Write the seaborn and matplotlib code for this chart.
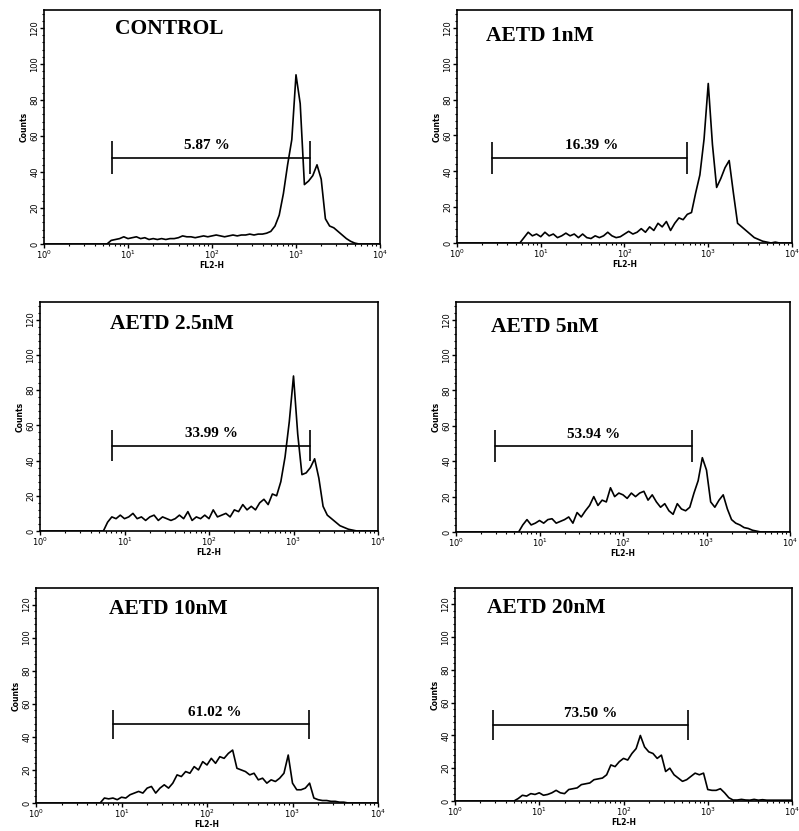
import numpy as np
import pandas as pd
import seaborn as sns
import matplotlib.pyplot as plt
from matplotlib.ticker import MultipleLocator, FixedLocator, LogLocator, NullFormatter

# FL2-H channel positions (decades 10^0 .. 10^4, step 0.05 decade)
decades = np.round(np.arange(0, 4.0001, 0.05), 2)
fl2 = 10 ** decades

titles = ['CONTROL', 'AETD 1nM', 'AETD 2.5nM', 'AETD 5nM', 'AETD 10nM', 'AETD 20nM']
gate_labels = ['5.87 %', '16.39 %', '33.99 %', '53.94 %', '61.02 %', '73.50 %']
gate_start = [6.4, 2.65, 7.1, 2.9, 7.9, 2.85]
gate_end = [1470, 565, 1560, 670, 1550, 590]
gate_y = [48, 47.5, 48.5, 48.5, 47.5, 46.5]
label_x = [87, 40, 108, 44, 124, 41]

counts_control = [0] * 16 + [
    2, 2.5, 3, 4, 3, 3.5, 4, 3, 3.5, 2.5, 3, 2.5, 3, 2.5, 3, 3, 3.5, 4.5, 4, 4,
    3.5, 4, 4.5, 4, 4.5, 5, 4.5, 4, 4.5, 5, 4.5, 5, 5, 5.5, 5, 5.5, 5.5, 6, 7, 10,
    16, 28, 44, 58, 94, 78, 33, 35, 38, 44, 36, 14, 10, 9, 7, 5, 3, 1.5, 0.5,
    0, 0, 0, 0, 0, 0]
counts_1nm = [0] * 16 + [
    3, 6, 4, 5, 3.5, 6, 4, 5, 3, 4, 5.5, 4, 5, 3, 5, 3, 2.5, 4, 3, 4,
    6, 4, 3, 3.5, 5, 6.5, 5, 6, 8, 6, 9, 7, 11, 9, 12, 7, 11, 14, 13, 16,
    17, 28, 38, 58, 89, 55, 31, 36, 42, 46, 28, 11, 9, 7, 5, 3, 2, 1, 0.5,
    0, 0.5, 0, 0, 0, 0]
counts_2_5nm = [0] * 16 + [
    5, 8, 7, 9, 7, 8, 10, 7, 8, 6, 8, 9, 6, 8, 7, 6, 7, 9, 7, 11,
    6, 8, 7, 9, 7, 12, 8, 9, 10, 8, 12, 11, 15, 12, 14, 12, 16, 18, 15, 21,
    20, 28, 42, 62, 88, 55, 32, 33, 36, 41, 30, 14, 9, 7, 5, 3, 2, 1, 0.5,
    0, 0, 0, 0, 0, 0]
counts_5nm = [0] * 16 + [
    4, 7, 4, 5, 6.5, 5, 7, 7.5, 5, 6, 7, 8.5, 5, 11, 8.5, 12, 15, 20, 15, 18,
    17, 25, 20, 22, 21, 19, 22, 20, 22, 23, 18, 21, 17, 14, 16, 12, 10, 16, 13, 12,
    14, 22, 29, 42, 35, 17, 14, 18, 21, 13, 7, 5, 4, 2.5, 2, 1, 0.5, 0, 0,
    0, 0, 0, 0, 0, 0]
counts_10nm = [0] * 16 + [
    3, 2.5, 3, 2, 3.5, 3, 5, 6, 7, 6, 9, 10, 6, 9, 11, 9, 12, 17, 16, 19,
    18, 22, 20, 25, 23, 27, 24, 28, 27, 30, 32, 21, 20, 19, 17, 18, 14, 15, 12, 14,
    13, 15, 18, 29, 12, 8, 8, 9, 12, 3, 2, 1.5, 1.5, 1, 1, 0.5, 0.5, 0, 0,
    0, 0, 0, 0, 0, 0]
counts_20nm = [0] * 15 + [
    1.5, 3.5, 3, 4.5, 4, 5, 3.5, 4, 5, 6.5, 5, 4.5, 7, 7.5, 8, 10, 10.5, 11, 13, 13.5,
    14, 16, 22, 21, 24, 26, 25, 29, 32, 40, 33, 30, 29, 26, 28, 18, 20, 16, 14, 12,
    13, 15, 17, 16, 17, 7, 6.5, 6.5, 7.5, 5, 2, 0.6, 0.6, 1, 0.6, 0.5, 1, 0.5, 0.8,
    0.5, 0.5, 0.5, 0.5, 0.5, 0.5, 0.5]

all_counts = [counts_control, counts_1nm, counts_2_5nm, counts_5nm, counts_10nm, counts_20nm]

sns.set_style('ticks')
plt.rcParams['font.family'] = ['DejaVu Sans']
plt.rcParams['text.color'] = 'black'
plt.rcParams['xtick.color'] = 'black'
plt.rcParams['ytick.color'] = 'black'
plt.rcParams['axes.labelcolor'] = 'black'

fig = plt.figure(figsize=(7.99, 8.31), dpi=100)
W, H = 799, 831
# panel boxes in pixels: left, top, right, bottom
boxes = [(44, 10, 380, 244), (457, 10, 792, 243),
         (40, 302, 378, 531), (456, 302, 790, 532),
         (36, 588, 378, 803), (455, 588, 792, 801)]
title_pos = [(0.21, 0.92), (0.088, 0.89), (0.207, 0.905),
             (0.105, 0.89), (0.213, 0.90), (0.096, 0.905)]

for k, (l, t, r, b) in enumerate(boxes):
    ax = fig.add_axes([l / W, 1 - b / H, (r - l) / W, (b - t) / H])
    df = pd.DataFrame({'FL2-H': fl2, 'Counts': all_counts[k]})
    sns.lineplot(data=df, x='FL2-H', y='Counts', ax=ax, color='black', lw=1.2)
    ax.set_xscale('log')
    ax.set_xlim(1, 1e4)
    ax.set_ylim(0, 130)

    # gate marker
    ax.plot([gate_start[k], gate_end[k]], [gate_y[k], gate_y[k]], color='black', lw=1.2)
    ax.vlines([gate_start[k], gate_end[k]], gate_y[k] - 9, gate_y[k] + 9, color='black', lw=1.2)
    ax.text(label_x[k], gate_y[k] + 3, gate_labels[k], ha='center', va='bottom',
            fontsize=11, fontweight='bold', family='Liberation Serif', color='black')
    ax.text(title_pos[k][0], title_pos[k][1], titles[k], transform=ax.transAxes,
            ha='left', va='center', fontsize=15.5, fontweight='bold',
            family='Liberation Serif', color='black')

    ax.yaxis.set_major_locator(FixedLocator([0, 20, 40, 60, 80, 100, 120]))
    ax.yaxis.set_minor_locator(MultipleLocator(4))
    ax.xaxis.set_major_locator(FixedLocator([1, 10, 100, 1000, 10000]))
    ax.xaxis.set_minor_locator(LogLocator(base=10, subs=np.arange(2, 10)))
    ax.xaxis.set_minor_formatter(NullFormatter())
    ax.set_xticklabels(['$10^0$', '$10^1$', '$10^2$', '$10^3$', '$10^4$'])
    for lab in ax.get_yticklabels():
        lab.set_rotation(90)
        lab.set_va('center')
    ax.tick_params(axis='both', which='major', labelsize=6, length=3, width=1, pad=0.5)
    ax.tick_params(axis='both', which='minor', length=1.5, width=0.8)
    ax.set_xlabel('FL2-H', fontsize=5.5, fontweight='bold', labelpad=0)
    ax.set_ylabel('Counts', fontsize=5.5, fontweight='bold', labelpad=1)
    for s in ax.spines.values():
        s.set_linewidth(1.2)
        s.set_color('black')

fig.savefig('out.png', dpi=100)
